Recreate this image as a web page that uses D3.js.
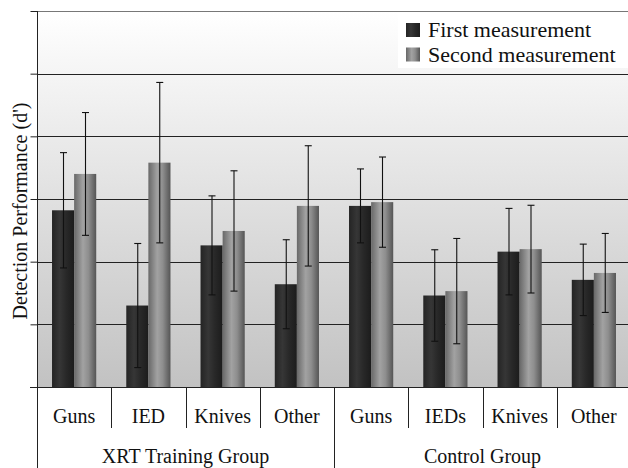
<!DOCTYPE html>
<html>
<head>
<meta charset="utf-8">
<script src="https://cdn.jsdelivr.net/npm/d3@7"></script>
</head>
<body style="margin:0">
<script>
// data (d' values, error = +/- half range)
const groups = ["XRT Training Group", "Control Group"];
const categories = ["Guns", "IED", "Knives", "Other", "Guns", "IEDs", "Knives", "Other"];
const firstValues = [1.41, 0.65, 1.13, 0.82, 1.445, 0.73, 1.08, 0.855];
const firstErrors = [0.46, 0.495, 0.395, 0.355, 0.295, 0.365, 0.345, 0.285];
const secondValues = [1.70, 1.79, 1.245, 1.445, 1.475, 0.765, 1.10, 0.91];
const secondErrors = [0.49, 0.64, 0.48, 0.48, 0.36, 0.42, 0.35, 0.315];
const series = ["First measurement", "Second measurement"];
const yTicks = [0, 0.5, 1, 1.5, 2, 2.5, 3];

const width = 628, height = 468;
const margin = {top: 11, right: -3, bottom: 81, left: 37};
const plotW = width - margin.left - margin.right;
const plotH = height - margin.top - margin.bottom;

const svg = d3.select("body").append("svg")
  .attr("width", width)
  .attr("height", height);

const defs = svg.append("defs");
const bg = defs.append("linearGradient").attr("id", "bg")
  .attr("x1", 0).attr("y1", 0).attr("x2", 0).attr("y2", 1);
bg.append("stop").attr("offset", "0%").attr("stop-color", "#ffffff");
bg.append("stop").attr("offset", "100%").attr("stop-color", "#c2c2c2");

function barGradient(id, stops) {
  const g = defs.append("linearGradient").attr("id", id)
    .attr("x1", 0).attr("y1", 0).attr("x2", 1).attr("y2", 0);
  stops.forEach(s => g.append("stop").attr("offset", s[0]).attr("stop-color", s[1]));
}
barGradient("g0", [["0%", "#242424"], ["35%", "#363636"], ["65%", "#282828"], ["100%", "#1c1c1c"]]);
barGradient("g1", [["0%", "#686868"], ["40%", "#a2a2a2"], ["65%", "#8e8e8e"], ["100%", "#555555"]]);

const g = svg.append("g")
  .attr("transform", "translate(" + margin.left + "," + margin.top + ")");

const x = d3.scaleBand()
  .domain(d3.range(categories.length))
  .range([0, plotW])
  .paddingInner(0).paddingOuter(0);

const xSub = d3.scaleBand()
  .domain([0, 1])
  .range([0, x.bandwidth()])
  .paddingOuter(0.68);

const y = d3.scaleLinear().domain([0, 3]).range([plotH, 0]);

// background
g.append("rect")
  .attr("width", plotW).attr("height", plotH)
  .attr("fill", "url(#bg)");

// gridlines
g.selectAll("line.grid")
  .data(yTicks.slice(1))
  .enter().append("line")
  .attr("class", "grid")
  .attr("x1", 0).attr("x2", plotW)
  .attr("y1", d => Math.round(y(d)) + 0.5).attr("y2", d => Math.round(y(d)) + 0.5)
  .attr("stroke", (d, i) => i === yTicks.length - 2 ? "#777" : "#222")
  .attr("stroke-width", 1);

// legend background
const legend = g.append("g").attr("transform", "translate(361,1)");
legend.append("rect")
  .attr("width", 240).attr("height", 56)
  .attr("fill", "#fff");

// bars
const rows = categories.map((c, i) => ({
  i: i,
  vals: [
    {s: 0, v: firstValues[i], e: firstErrors[i]},
    {s: 1, v: secondValues[i], e: secondErrors[i]}
  ]
}));

const cat = g.selectAll("g.cat")
  .data(rows)
  .enter().append("g")
  .attr("class", "cat")
  .attr("transform", d => "translate(" + x(d.i) + ",0)");

cat.selectAll("rect")
  .data(d => d.vals)
  .enter().append("rect")
  .attr("x", d => xSub(d.s))
  .attr("width", xSub.bandwidth())
  .attr("y", d => y(d.v))
  .attr("height", d => plotH - y(d.v))
  .attr("fill", d => "url(#g" + d.s + ")");

// error bars
const err = cat.selectAll("g.err")
  .data(d => d.vals)
  .enter().append("g")
  .attr("class", "err")
  .attr("stroke", "#111")
  .attr("stroke-width", 1.1);

const cx = d => Math.round(xSub(d.s) + xSub.bandwidth() / 2) + 0.5;
err.append("line")
  .attr("x1", cx).attr("x2", cx)
  .attr("y1", d => y(d.v + d.e)).attr("y2", d => y(d.v - d.e));
err.append("line")
  .attr("x1", d => cx(d) - 3.5).attr("x2", d => cx(d) + 3.5)
  .attr("y1", d => y(d.v + d.e)).attr("y2", d => y(d.v + d.e));
err.append("line")
  .attr("x1", d => cx(d) - 3.5).attr("x2", d => cx(d) + 3.5)
  .attr("y1", d => y(d.v - d.e)).attr("y2", d => y(d.v - d.e));

// baseline
g.append("line")
  .attr("x1", -7).attr("x2", plotW)
  .attr("y1", plotH + 0.5).attr("y2", plotH + 0.5)
  .attr("stroke", "#222");

// y axis with outside ticks, no labels
const yAxis = d3.axisLeft(y).tickValues(yTicks).tickSize(7).tickFormat("");
const ya = g.append("g").attr("transform", "translate(0.5,0)").call(yAxis);
ya.select(".domain").remove();
ya.selectAll("line").attr("stroke", "#222");
g.append("line")
  .attr("x1", 0.5).attr("x2", 0.5)
  .attr("y1", 0).attr("y2", height - margin.top)
  .attr("stroke", "#222");

// category dividers
g.selectAll("line.div")
  .data(d3.range(1, categories.length))
  .enter().append("line")
  .attr("class", "div")
  .attr("x1", d => Math.round(x(d)) + 0.5).attr("x2", d => Math.round(x(d)) + 0.5)
  .attr("y1", plotH)
  .attr("y2", d => d === 4 ? height - margin.top : plotH + 41)
  .attr("stroke", "#222");

// all texts in one layer, serif like the original
const labels = [];
categories.forEach((c, i) => labels.push({t: c, x: margin.left + x(i) + x.bandwidth() / 2, y: margin.top + plotH + 36, size: 20, rot: 0}));
groups.forEach((c, i) => labels.push({t: c, x: margin.left + x(i * 4) + x.bandwidth() * 2, y: margin.top + plotH + 76, size: 20, rot: 0}));
labels.push({t: "Detection Performance (d')", x: 27, y: 211, size: 20, rot: -90});

svg.selectAll("text.lab")
  .data(labels)
  .enter().append("text")
  .attr("class", "lab")
  .attr("transform", d => "translate(" + d.x + "," + d.y + ") rotate(" + d.rot + ")")
  .attr("text-anchor", "middle")
  .attr("font-size", d => d.size)
  .attr("fill", "#111")
  .text(d => d.t);

// legend entries
const li = legend.selectAll("g.li")
  .data(series)
  .enter().append("g")
  .attr("class", "li")
  .attr("transform", (d, i) => "translate(8," + (11 + i * 24.5) + ")");
li.append("rect")
  .attr("width", 14).attr("height", 14)
  .attr("fill", (d, i) => "url(#g" + i + ")");
li.append("text")
  .attr("x", 22).attr("y", 14)
  .attr("font-size", 22)
  .attr("fill", "#111")
  .text(d => d);

// serif face, forced on every text node
svg.selectAll("text")
  .attr("font-family", "serif")
  .each(function() { this.style.setProperty("font-family", "'Times New Roman', serif", "important"); });
</script>
</body>
</html>
